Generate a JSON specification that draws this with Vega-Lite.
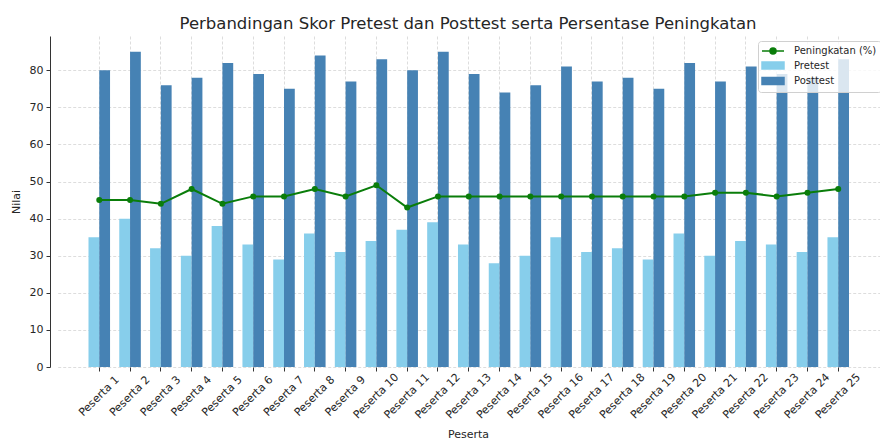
{
  "$schema": "https://vega.github.io/schema/vega-lite/v6.json",
  "width": 830,
  "height": 331,
  "autosize": {"type": "none"},
  "padding": {"left": 50, "top": 36, "right": 0, "bottom": 74},
  "background": "white",
  "config": {
    "view": {"stroke": null},
    "font": "DejaVu Sans",
    "axis": {
      "labelFont": "DejaVu Sans",
      "titleFont": "DejaVu Sans",
      "labelColor": "#262626",
      "titleColor": "#262626",
      "labelFontSize": 11,
      "titleFontSize": 11,
      "titleFontWeight": "normal",
      "domainColor": "#333333",
      "domainWidth": 1,
      "tickColor": "#333333",
      "tickSize": 4,
      "gridColor": "#d4d4d4",
      "gridDash": [3, 2],
      "gridWidth": 0.8
    }
  },
  "title": {
    "text": "Perbandingan Skor Pretest dan Posttest serta Persentase Peningkatan",
    "font": "DejaVu Sans",
    "fontSize": 16.5,
    "fontWeight": "normal",
    "color": "#262626",
    "anchor": "middle",
    "baseline": "alphabetic",
    "offset": -9,
    "dx": 3
  },
  "data": {
    "values": [
      {"Peserta": "Peserta 1", "Pretest": 35, "Posttest": 80, "Peningkatan": 45},
      {"Peserta": "Peserta 2", "Pretest": 40, "Posttest": 85, "Peningkatan": 45},
      {"Peserta": "Peserta 3", "Pretest": 32, "Posttest": 76, "Peningkatan": 44},
      {"Peserta": "Peserta 4", "Pretest": 30, "Posttest": 78, "Peningkatan": 48},
      {"Peserta": "Peserta 5", "Pretest": 38, "Posttest": 82, "Peningkatan": 44},
      {"Peserta": "Peserta 6", "Pretest": 33, "Posttest": 79, "Peningkatan": 46},
      {"Peserta": "Peserta 7", "Pretest": 29, "Posttest": 75, "Peningkatan": 46},
      {"Peserta": "Peserta 8", "Pretest": 36, "Posttest": 84, "Peningkatan": 48},
      {"Peserta": "Peserta 9", "Pretest": 31, "Posttest": 77, "Peningkatan": 46},
      {"Peserta": "Peserta 10", "Pretest": 34, "Posttest": 83, "Peningkatan": 49},
      {"Peserta": "Peserta 11", "Pretest": 37, "Posttest": 80, "Peningkatan": 43},
      {"Peserta": "Peserta 12", "Pretest": 39, "Posttest": 85, "Peningkatan": 46},
      {"Peserta": "Peserta 13", "Pretest": 33, "Posttest": 79, "Peningkatan": 46},
      {"Peserta": "Peserta 14", "Pretest": 28, "Posttest": 74, "Peningkatan": 46},
      {"Peserta": "Peserta 15", "Pretest": 30, "Posttest": 76, "Peningkatan": 46},
      {"Peserta": "Peserta 16", "Pretest": 35, "Posttest": 81, "Peningkatan": 46},
      {"Peserta": "Peserta 17", "Pretest": 31, "Posttest": 77, "Peningkatan": 46},
      {"Peserta": "Peserta 18", "Pretest": 32, "Posttest": 78, "Peningkatan": 46},
      {"Peserta": "Peserta 19", "Pretest": 29, "Posttest": 75, "Peningkatan": 46},
      {"Peserta": "Peserta 20", "Pretest": 36, "Posttest": 82, "Peningkatan": 46},
      {"Peserta": "Peserta 21", "Pretest": 30, "Posttest": 77, "Peningkatan": 47},
      {"Peserta": "Peserta 22", "Pretest": 34, "Posttest": 81, "Peningkatan": 47},
      {"Peserta": "Peserta 23", "Pretest": 33, "Posttest": 79, "Peningkatan": 46},
      {"Peserta": "Peserta 24", "Pretest": 31, "Posttest": 78, "Peningkatan": 47},
      {"Peserta": "Peserta 25", "Pretest": 35, "Posttest": 83, "Peningkatan": 48}
    ]
  },
  "encoding": {
    "x": {
      "field": "Peserta",
      "type": "nominal",
      "sort": null,
      "scale": {"paddingInner": 0.3, "paddingOuter": 1, "range": [7.7, 829.8]},
      "axis": {
        "title": "Peserta",
        "titleX": 418,
        "titleY": 61,
        "domain": false,
        "labelAngle": -45,
        "labelAlign": "center",
        "labelBaseline": "middle",
        "labelPadding": 25,
        "labelOverlap": false,
        "labelBound": false,
        "grid": true
      }
    }
  },
  "layer": [
    {
      "transform": [{"fold": ["Pretest", "Posttest"], "as": ["Jenis", "Nilai"]}],
      "mark": {"type": "bar"},
      "encoding": {
        "xOffset": {
          "field": "Jenis",
          "type": "nominal",
          "sort": ["Pretest", "Posttest"],
          "scale": {"paddingInner": 0, "paddingOuter": 0}
        },
        "y": {
          "field": "Nilai",
          "type": "quantitative",
          "scale": {"domain": [0, 89.25], "nice": false},
          "axis": {
            "title": "Nilai",
            "values": [0, 10, 20, 30, 40, 50, 60, 70, 80],
            "labelPadding": 3,
            "titlePadding": 8,
            "grid": true
          }
        },
        "color": {
          "field": "Jenis",
          "type": "nominal",
          "scale": {
            "domain": ["Peningkatan (%)", "Pretest", "Posttest"],
            "range": ["#0a7d0a", "#87CEEB", "#4682B4"]
          },
          "legend": {
            "title": null,
            "orient": "none",
            "legendX": 708,
            "legendY": 5,
            "padding": 4,
            "fillColor": "rgba(255,255,255,0.8)",
            "strokeColor": "#d0d0d0",
            "cornerRadius": 3,
            "labelFont": "DejaVu Sans",
            "labelFontSize": 10,
            "labelColor": "#262626",
            "symbolSize": 100,
            "symbolStrokeWidth": 1.5,
            "symbolOffset": 5,
            "labelOffset": 15,
            "rowPadding": 1.5,
            "encode": {
              "symbols": {
                "update": {
                  "shape": {"signal": "datum.value === 'Peningkatan (%)' ? 'M-2.2,0H2.2M0.6,0A0.6,0.6,0,1,1,-0.6,0A0.6,0.6,0,1,1,0.6,0Z' : 'M-2.2,-0.7H2.2V0.7H-2.2Z'"},
                  "fill": {"signal": "datum.value === 'Pretest' ? '#87CEEB' : datum.value === 'Posttest' ? '#4682B4' : '#0a7d0a'"},
                  "stroke": {"signal": "datum.value === 'Peningkatan (%)' ? '#0a7d0a' : null"},
                  "strokeWidth": {"value": 1.5},
                  "opacity": {"value": 1},
                  "fillOpacity": {"value": 1}
                }
              }
            }
          }
        }
      }
    },
    {
      "mark": {"type": "rule", "color": "#333333", "strokeWidth": 1},
      "encoding": {"y": {"datum": 0}}
    },
    {
      "mark": {"type": "line", "strokeWidth": 2, "point": {"filled": true, "size": 36}},
      "encoding": {
        "y": {"field": "Peningkatan", "type": "quantitative"},
        "color": {"datum": "Peningkatan (%)"}
      }
    }
  ]
}
